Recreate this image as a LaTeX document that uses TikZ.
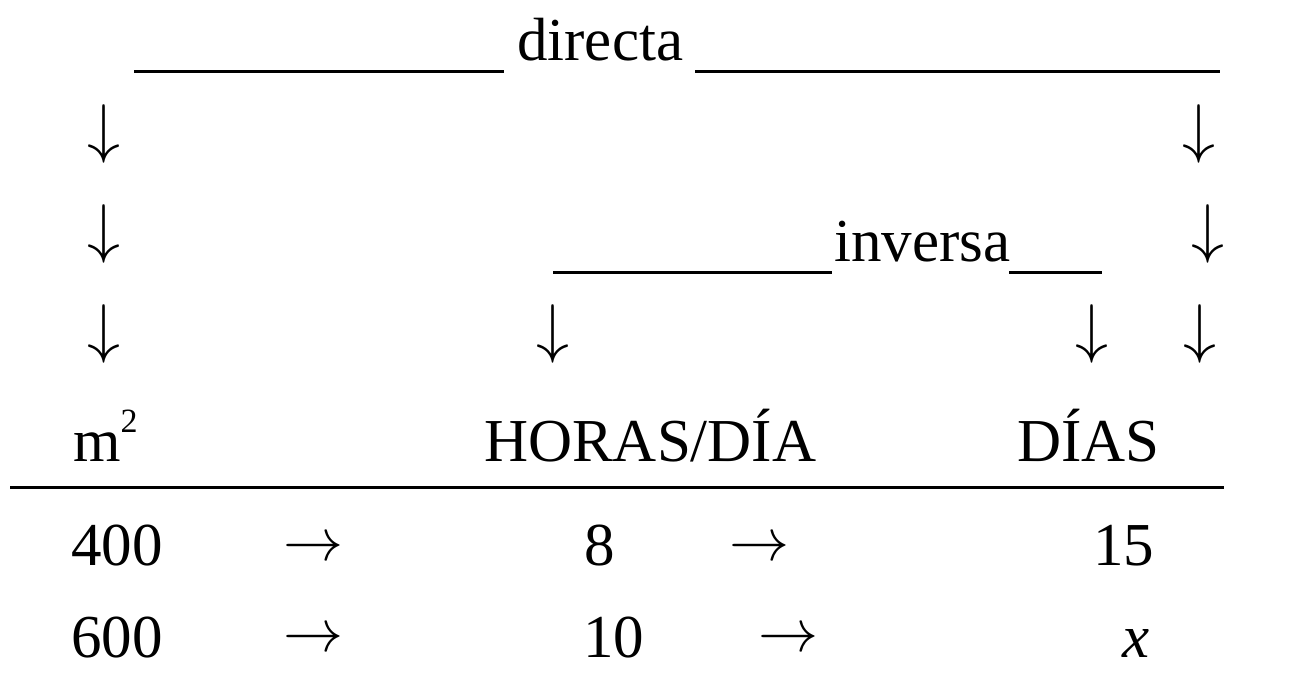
\documentclass[tikz,border=0pt]{standalone}
\usepackage{fontspec}
\setmainfont{Liberation Serif}
\begin{document}
\begin{tikzpicture}[x=1pt,y=-1pt,
  txt/.style={inner sep=0pt,anchor=base west,font=\fontsize{61}{70}\selectfont},
  dar/.style={inner sep=0pt,anchor=center},
  rar/.style={inner sep=0pt,anchor=center},
  uline/.style={line width=3pt}]
\newcommand{\dnarr}{\scalebox{6.6}{$\downarrow$}}
\newcommand{\rtarr}{\scalebox{6}{$\rightarrow$}}
\useasboundingbox[fill=white] (0,0) rectangle (1299,684);
% directa
\coordinate (d1a) at (134,72);
\coordinate (d1b) at (504,72);
\node[txt] (directa) at (517,61) {directa};
\coordinate (d2a) at (695,72);
\coordinate (d2b) at (1220,72);
\draw[uline] (d1a) -- (d1b);
\draw[uline] (d2a) -- (d2b);
% down arrows
\node[dar] (a1l) at (104,134) {\dnarr};
\node[dar] (a1r) at (1199,134) {\dnarr};
\node[dar] (a2l) at (104,234) {\dnarr};
\node[dar] (a2r) at (1208,234) {\dnarr};
\node[dar] (a3l) at (104,334) {\dnarr};
\node[dar] (a3m) at (553,334) {\dnarr};
\node[dar] (a3n) at (1092,334) {\dnarr};
\node[dar] (a3r) at (1200,334) {\dnarr};
% inversa
\coordinate (i1a) at (553,273);
\coordinate (i1b) at (832,273);
\node[txt] (inversa) at (834,262) {inversa};
\coordinate (i2a) at (1009,273);
\coordinate (i2b) at (1102,273);
\draw[uline] (i1a) -- (i1b);
\draw[uline] (i2a) -- (i2b);
% headers
\node[txt] (m2) at (73,462) {m\raisebox{29pt}{\fontsize{34}{34}\selectfont 2}};
\node[txt] (horas) at (484,462) {HORAS/DÍA};
\node[txt] (dias) at (1017,462) {DÍAS};
\coordinate (r1) at (10,487);
\coordinate (r2) at (1224,487);
\draw[uline] (r1) -- (r2);
% row 1
\node[txt] (n400) at (71,565) {400};
\node[rar] (ra1) at (313,549) {\rtarr};
\node[txt] (n8) at (584,565) {8};
\node[rar] (ra2) at (759,549) {\rtarr};
\node[txt] (n15) at (1093,565) {15};
% row 2
\node[txt] (n600) at (71,657) {600};
\node[rar] (rb1) at (313,640) {\rtarr};
\node[txt] (n10) at (583,657) {10};
\node[rar] (rb2) at (788,640) {\rtarr};
\node[txt] (nx) at (1122,657) {\textit{x}};
\end{tikzpicture}
\end{document}
